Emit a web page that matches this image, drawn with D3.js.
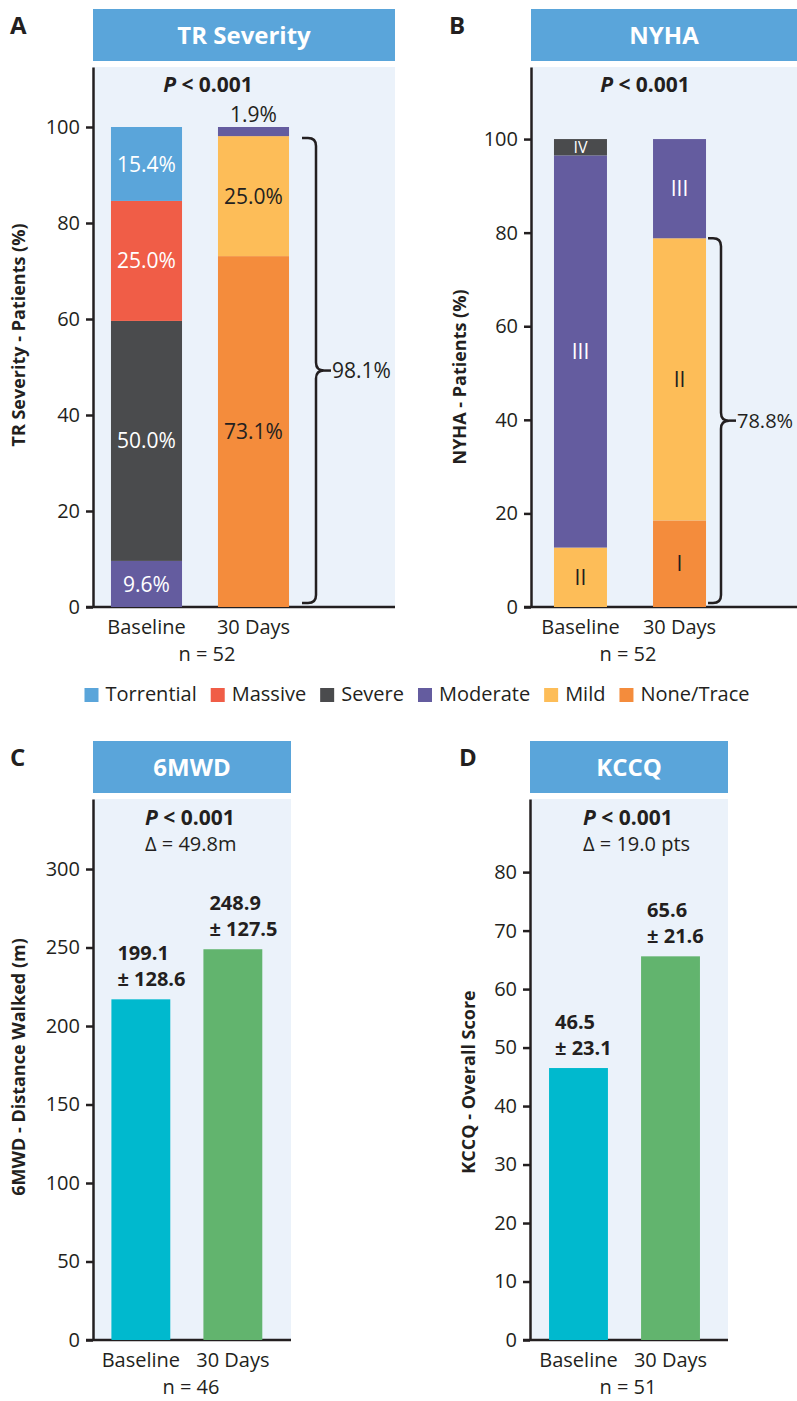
<!DOCTYPE html>
<html>
<head>
<meta charset="utf-8">
<script src="https://cdn.jsdelivr.net/npm/d3@7"></script>
<style>
  body { margin: 0; background: #fff; }
  text { font-family: "Open Sans", sans-serif; fill: #231f20; }
</style>
</head>
<body>
<script>
// ---- data ----
var timepoints = ["Baseline", "30 Days"];

var trCats = ["Torrential", "Massive", "Severe", "Moderate", "Mild", "None/Trace"];
var trColors = ["#5aa5da", "#f05d47", "#4a4b4d", "#645c9f", "#fdbd58", "#f48c3c"];
var trBaseline = [15.4, 25.0, 50.0, 9.6, 0, 0];
var trDay30 = [0, 0, 0, 1.9, 25.0, 73.1];
var trImproved = 98.1;

var nyhaCats = ["IV", "III", "II", "I"];
var nyhaColors = ["#4a4b4d", "#645c9f", "#fdbd58", "#f48c3c"];
var nyhaBaseline = [3.5, 83.8, 12.7, 0];
var nyhaDay30 = [0, 21.2, 60.3, 18.5];
var nyhaImproved = 78.8;

// printed labels, and bar heights as drawn in the figure
var mwdMean = [199.1, 248.9];
var mwdSd = [128.6, 127.5];
var mwdBar = [217, 248.9];
var mwdTicks = [0, 50, 100, 150, 200, 250, 300];

var kccqMean = [46.5, 65.6];
var kccqSd = [23.1, 21.6];
var kccqBar = [46.5, 65.6];
var kccqTicks = [0, 10, 20, 30, 40, 50, 60, 70, 80];

var pctTicks = [0, 20, 40, 60, 80, 100];
var barColors = ["#00b9ce", "#62b46e"];

var blue = "#5aa5da", bg = "#ebf2fa", ink = "#231f20";

var svg = d3.select("body").append("svg")
    .attr("width", 797).attr("height", 1401);

// common frame: title box, background, axes
function frame(p){
    var g = svg.append("g");
    g.append("text").text(p.letter)
        .attr("x", p.letterX).attr("y", p.titleTop + 25)
        .style("font-size", "24px").style("font-weight", 700);
    g.append("rect").attr("x", p.x0).attr("y", p.titleTop)
        .attr("width", p.x1 - p.x0).attr("height", 52).attr("fill", blue);
    g.append("text").text(p.title)
        .attr("x", (p.x0 + p.x1) / 2).attr("y", p.titleTop + 35)
        .attr("text-anchor", "middle")
        .style("font-size", "24px").style("font-weight", 700).style("fill", "#fff");
    g.append("rect").attr("x", p.x0).attr("y", p.top)
        .attr("width", p.x1 - p.x0).attr("height", p.bottom - p.top).attr("fill", bg);

    var y = d3.scaleLinear().domain([0, p.ymax]).range([p.bottom, p.top]);
    var x = d3.scaleBand().domain(timepoints)
        .range([p.x0, p.bandEnd]).paddingInner(p.pi).paddingOuter(p.po);

    var ya = g.append("g").attr("transform", "translate(" + p.x0 + ",0)")
        .call(d3.axisLeft(y).tickValues(p.ticks).tickSize(7).tickPadding(6).tickSizeOuter(0));
    ya.select(".domain").attr("stroke", ink).attr("stroke-width", 2.5);
    ya.selectAll(".tick line").attr("stroke", ink).attr("stroke-width", 2.5);
    ya.selectAll(".tick text").style("font-size", "20px").style("font-family", "Open Sans").attr("fill", ink);

    var xa = g.append("g").attr("transform", "translate(0," + p.bottom + ")")
        .call(d3.axisBottom(x).tickSize(0).tickPadding(13));
    xa.select(".domain").remove();
    xa.selectAll(".tick text").style("font-size", "20px").style("font-family", "Open Sans").attr("fill", ink);
    g.append("line").attr("x1", p.x0 - 7).attr("x2", p.x1)
        .attr("y1", p.bottom).attr("y2", p.bottom)
        .attr("stroke", ink).attr("stroke-width", 2.5);

    g.append("text").text(p.ytitle)
        .attr("transform", "translate(" + p.ytX + "," + p.ytY + ") rotate(-90)")
        .attr("text-anchor", "middle")
        .style("font-size", "18px").style("font-weight", 700);

    g.append("text").text("n = " + p.n)
        .attr("x", p.nX).attr("y", p.bottom + 54)
        .attr("text-anchor", "middle").style("font-size", "20px");

    // P value line
    var pt = g.append("text").attr("x", p.pX).attr("y", p.pY)
        .attr("text-anchor", p.pAnchor).style("font-size", "21px").style("font-weight", 700);
    pt.append("tspan").text("P").style("font-style", "italic");
    pt.append("tspan").text(" < 0.001");
    if (p.delta) {
        g.append("text").text("Δ = " + p.delta)
            .attr("x", p.pX).attr("y", p.pY + 26).style("font-size", "20px");
    }
    return {g: g, x: x, y: y};
}

// bracket from yTop to yBot at x, with a point in the middle
function bracket(g, xs, xv, yTop, yBot, label, fs){
    var r = 8, ym = (yTop + yBot) / 2;
    var path = "M" + xs + "," + yTop + " H" + (xv - r) + " Q" + xv + "," + yTop + " " + xv + "," + (yTop + r)
        + " V" + (ym - r) + " Q" + xv + "," + ym + " " + (xv + r) + "," + ym
        + " Q" + xv + "," + ym + " " + xv + "," + (ym + r)
        + " V" + (yBot - r) + " Q" + xv + "," + yBot + " " + (xv - r) + "," + yBot + " H" + xs;
    g.append("path").attr("d", path).attr("fill", "none")
        .attr("stroke", ink).attr("stroke-width", 2.5);
    g.append("line").attr("x1", xv + r).attr("x2", xv + 15).attr("y1", ym).attr("y2", ym)
        .attr("stroke", ink).attr("stroke-width", 2.5);
    g.append("text").text(label).attr("x", xv + 16).attr("y", ym + 7).style("font-size", fs + "px");
}

function stacked(f, cats, colors, rows, labelFn, darkKeys, fs){
    var table = rows.map(function(r, i){
        var o = {time: timepoints[i]};
        cats.forEach(function(c, j){ o[c] = r[j]; });
        return o;
    });
    var keys = cats.slice().reverse();
    var series = d3.stack().keys(keys)(table);
    var col = d3.scaleOrdinal().domain(cats).range(colors);
    f.g.selectAll("g.s").data(series).enter().append("g").attr("class", "s")
        .attr("fill", function(d){ return col(d.key); })
        .each(function(s){
            var sg = d3.select(this);
            sg.selectAll("rect").data(s.filter(function(d){ return d[1] - d[0] > 0; }))
                .enter().append("rect")
                .attr("x", function(d){ return f.x(d.data.time); })
                .attr("width", f.x.bandwidth())
                .attr("y", function(d){ return f.y(d[1]); })
                .attr("height", function(d){ return f.y(d[0]) - f.y(d[1]); });
            sg.selectAll("text").data(s.filter(function(d){ return d[1] - d[0] > 3; }))
                .enter().append("text")
                .text(function(d){ return labelFn(s.key, d[1] - d[0]); })
                .attr("x", function(d){ return f.x(d.data.time) + f.x.bandwidth() / 2; })
                .attr("y", function(d){ return (f.y(d[0]) + f.y(d[1])) / 2; })
                .attr("dy", "0.36em").attr("text-anchor", "middle")
                .style("font-size", function(d){ return (d[1] - d[0] < 5 ? fs - 5 : fs) + "px"; })
                .style("fill", darkKeys.indexOf(s.key) >= 0 ? ink : "#fff");
        });
    return series;
}

// ---- A: TR severity ----
var fa = frame({letter: "A", letterX: 10, title: "TR Severity", titleTop: 9,
    x0: 93, x1: 395, top: 67, bottom: 607, ymax: 112.5, ticks: pctTicks,
    bandEnd: 307, pi: 0.336, po: 0.168,
    ytitle: "TR Severity - Patients (%)", ytX: 25, ytY: 335,
    n: 52, nX: 207, pX: 208, pY: 92, pAnchor: "middle"});
stacked(fa, trCats, trColors, [trBaseline, trDay30],
    function(k, v){ return v.toFixed(1) + "%"; }, ["Mild", "None/Trace"], 21);
fa.g.append("text").text(trDay30[3].toFixed(1) + "%")
    .attr("x", fa.x("30 Days") + fa.x.bandwidth() / 2).attr("y", fa.y(100) - 5)
    .attr("text-anchor", "middle").style("font-size", "21px");
bracket(fa.g, fa.x("30 Days") + fa.x.bandwidth() + 13, 316, fa.y(trImproved) + 2, fa.y(0) - 4, trImproved + "%", 21);

// ---- B: NYHA ----
var fb = frame({letter: "B", letterX: 449, title: "NYHA", titleTop: 9,
    x0: 531, x1: 797, top: 67, bottom: 607, ymax: 115.4, ticks: pctTicks,
    bandEnd: 729, pi: 0.465, po: 0.232,
    ytitle: "NYHA - Patients (%)", ytX: 466, ytY: 377,
    n: 52, nX: 628, pX: 645, pY: 92, pAnchor: "middle"});
stacked(fb, nyhaCats, nyhaColors, [nyhaBaseline, nyhaDay30],
    function(k){ return k; }, ["II", "I"], 21);
bracket(fb.g, fb.x("30 Days") + fb.x.bandwidth() + 2, 721, fb.y(nyhaImproved), fb.y(0) - 4, nyhaImproved + "%", 20);

// ---- simple bar panels ----
function meanBars(f, heights, means, sds){
    f.g.selectAll("rect.bar").data(heights).enter().append("rect").attr("class", "bar")
        .attr("x", function(d, i){ return f.x(timepoints[i]); })
        .attr("width", f.x.bandwidth())
        .attr("y", function(d){ return f.y(d); })
        .attr("height", function(d){ return f.y(0) - f.y(d); })
        .attr("fill", function(d, i){ return barColors[i]; });
    var lab = f.g.selectAll("text.val").data(heights).enter().append("text").attr("class", "val")
        .attr("x", function(d, i){ return f.x(timepoints[i]) + 6; })
        .attr("y", function(d){ return f.y(d) - 39; })
        .style("font-size", "20px").style("font-weight", 700);
    lab.append("tspan").text(function(d, i){ return means[i].toFixed(1); });
    lab.append("tspan").attr("x", function(d, i){ return f.x(timepoints[i]) + 6; }).attr("dy", 26)
        .text(function(d, i){ return "± " + sds[i].toFixed(1); });
}

var fc = frame({letter: "C", letterX: 10, title: "6MWD", titleTop: 741,
    x0: 93, x1: 291, top: 799, bottom: 1340, ymax: 344.6, ticks: mwdTicks,
    bandEnd: 280.7, pi: 0.36, po: 0.2,
    ytitle: "6MWD - Distance Walked (m)", ytX: 25, ytY: 1067,
    n: 46, nX: 191, pX: 145, pY: 825, pAnchor: "start", delta: "49.8m"});
meanBars(fc, mwdBar, mwdMean, mwdSd);

var fd = frame({letter: "D", letterX: 459, title: "KCCQ", titleTop: 741,
    x0: 530, x1: 728, top: 799, bottom: 1340, ymax: 92.5, ticks: kccqTicks,
    bandEnd: 719, pi: 0.36, po: 0.207,
    ytitle: "KCCQ - Overall Score", ytX: 475, ytY: 1082,
    n: 51, nX: 628, pX: 583, pY: 825, pAnchor: "start", delta: "19.0 pts"});
meanBars(fd, kccqBar, kccqMean, kccqSd);

// ---- legend ----
var leg = svg.append("g");
var lx = 0;
trCats.forEach(function(c, i){
    var it = leg.append("g").attr("transform", "translate(" + lx + ",0)");
    it.append("rect").attr("x", 0).attr("y", 688).attr("width", 14).attr("height", 14).attr("fill", trColors[i]);
    var t = it.append("text").text(c).attr("x", 21).attr("y", 701).style("font-size", "20px");
    lx += 21 + t.node().getComputedTextLength() + 14;
});
leg.attr("transform", "translate(" + (417 - (lx - 14) / 2) + ",0)");
</script>
</body>
</html>
